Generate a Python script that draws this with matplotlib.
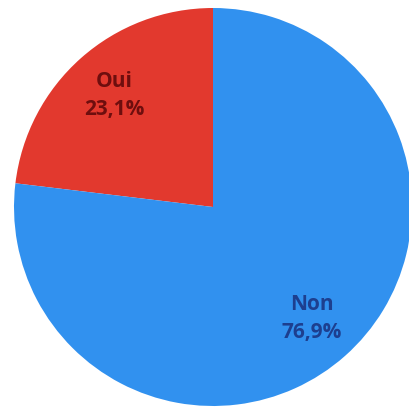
import matplotlib
matplotlib.use("Agg")
import matplotlib.pyplot as plt

categories = ["Oui", "Non"]
values = [23.1, 76.9]
colors = ["#e2392e", "#3191ef"]
text_colors = ["#6e0e0e", "#1d3f8f"]

fig = plt.figure(figsize=(4.09, 4.09), dpi=100)
ax = fig.add_axes([0, 0, 1, 1])

labels = [f"{c}\n{v:.1f}%".replace(".", ",") for c, v in zip(categories, values)]
wedges, texts = ax.pie(values, colors=colors, startangle=90, counterclock=True,
                       labels=labels, labeldistance=0.75,
                       wedgeprops=dict(linewidth=0),
                       textprops=dict(fontsize=15, fontweight="bold",
                                      family="Open Sans", va="center",
                                      linespacing=1.45))
for t, c in zip(texts, text_colors):
    t.set_color(c)
    t.set_horizontalalignment("center")
    t.set_multialignment("center")

r = 199.0
ax.set_xlim(-213 / r, (409 - 213) / r)
ax.set_ylim(-(409 - 207) / r, 207 / r)
ax.set_aspect("equal")
ax.axis("off")

fig.savefig("out.png", dpi=100)
